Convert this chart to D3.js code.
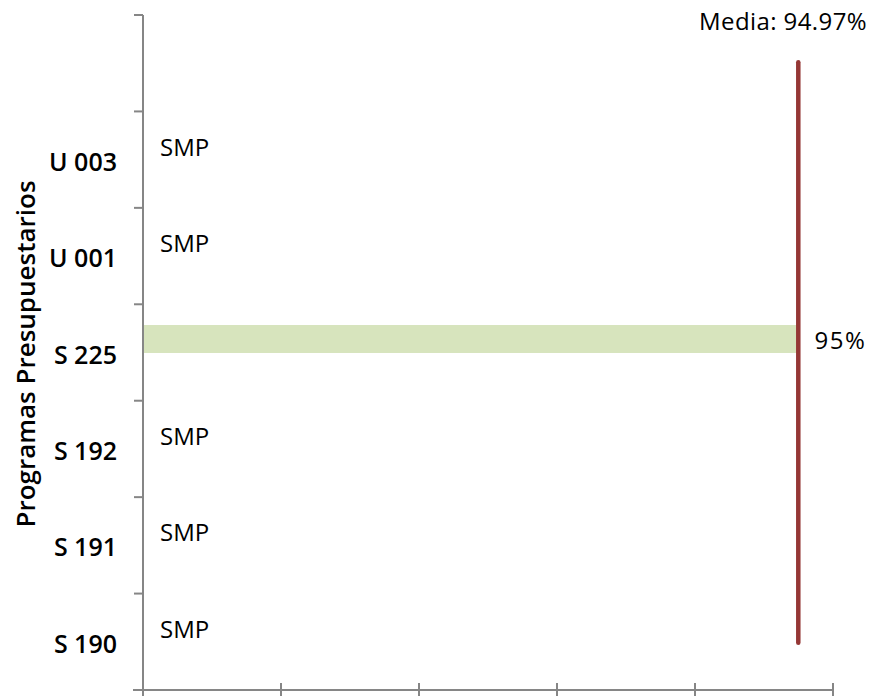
<!DOCTYPE html>
<html><head><meta charset="utf-8">
<script src="https://cdn.jsdelivr.net/npm/d3@7"></script>
<style>body{margin:0;background:#fff}svg{display:block}</style>
</head><body>
<script>
const categories = ["", "U 003", "U 001", "S 225", "S 192", "S 191", "S 190"];
const values = [null, null, null, 0.95, null, null, null];
const missingLabel = "SMP";
const meanValue = 0.9497;
const meanLabel = "Media: 94.97%";
const xTicks = [0, 0.2, 0.4, 0.6, 0.8, 1.0];
const yTitle = "Programas Presupuestarios";

const W = 887, H = 696;
const svg = d3.select("body").append("svg").attr("width", W).attr("height", H);
const FONT = "'Open Sans', sans-serif";

const x = d3.scaleLinear().domain([0, 1]).range([143, 833]);
const y = d3.scaleBand().domain(categories).range([15, 690]).paddingInner(0).paddingOuter(0);
const bw = y.bandwidth();

// bars
svg.append("g").selectAll("rect").data(categories.map((c, i) => ({c, v: values[i]})).filter(d => d.v != null))
  .enter().append("rect")
  .attr("x", x(0)).attr("y", d => y(d.c) + bw * 0.215)
  .attr("width", d => x(d.v) - x(0)).attr("height", bw * 0.29)
  .attr("fill", "#d7e4bd");

// value labels
svg.append("g").selectAll("text").data(categories.map((c, i) => ({c, v: values[i]})).filter(d => d.v != null))
  .enter().append("text")
  .attr("x", d => x(d.v) + 16).attr("y", d => y(d.c) + bw * 0.36)
  .attr("dominant-baseline", "central")
  .attr("font-family", FONT).attr("font-size", 24).attr("letter-spacing", 1.5).attr("fill", "#000")
  .text(d => d3.format(".0%")(d.v));

// SMP labels
svg.append("g").selectAll("text").data(categories.map((c, i) => ({c, v: values[i]})).filter(d => d.v == null && d.c !== ""))
  .enter().append("text")
  .attr("x", x(0) + 17).attr("y", d => y(d.c) + bw * 0.36)
  .attr("dominant-baseline", "central")
  .attr("font-family", FONT).attr("font-size", 24).attr("fill", "#000")
  .text(missingLabel);

// y axis
const yAxis = svg.append("g").attr("transform", `translate(${x(0)},0)`);
yAxis.append("line").attr("x1", 0).attr("x2", 0).attr("y1", y.range()[0]).attr("y2", y.range()[1])
  .attr("stroke", "#868686").attr("stroke-width", 2);
const bounds = categories.map(c => y(c)).concat([y.range()[1]]);
yAxis.selectAll("line.tick").data(bounds).enter().append("line").attr("class", "tick")
  .attr("x1", -9).attr("x2", 0).attr("y1", d => d).attr("y2", d => d)
  .attr("stroke", "#868686").attr("stroke-width", 2);
yAxis.selectAll("text").data(categories).enter().append("text")
  .attr("x", -26).attr("y", d => y(d) + bw / 2 + 1)
  .attr("text-anchor", "end").attr("dominant-baseline", "central")
  .attr("font-family", FONT).attr("font-size", 25).attr("font-weight", 600).attr("fill", "#000")
  .text(d => d);

// x axis
const xAxis = svg.append("g").attr("transform", `translate(0,${y.range()[1]})`);
xAxis.append("line").attr("x1", x(0) - 10).attr("x2", x(1)).attr("y1", 0).attr("y2", 0)
  .attr("stroke", "#868686").attr("stroke-width", 2);
xAxis.selectAll("line.tick").data(xTicks).enter().append("line").attr("class", "tick")
  .attr("x1", d => x(d)).attr("x2", d => x(d)).attr("y1", -7).attr("y2", 10)
  .attr("stroke", "#868686").attr("stroke-width", 2);

// mean line
svg.append("line")
  .attr("x1", x(meanValue)).attr("x2", x(meanValue))
  .attr("y1", y(categories[0]) + bw * 0.49).attr("y2", y.range()[1] - bw * 0.49)
  .attr("stroke", "#953735").attr("stroke-width", 4.5).attr("stroke-linecap", "round");
svg.append("text").attr("x", 867).attr("y", 20)
  .attr("text-anchor", "end").attr("dominant-baseline", "central")
  .attr("font-family", FONT).attr("font-size", 24).attr("letter-spacing", 0.4).attr("fill", "#000")
  .text(meanLabel);

// y title
svg.append("text").attr("transform", "translate(25,354) rotate(-90)")
  .attr("text-anchor", "middle").attr("dominant-baseline", "central")
  .attr("font-family", FONT).attr("font-size", 26).attr("font-weight", 600).attr("fill", "#000")
  .text(yTitle);
</script>
</body></html>
